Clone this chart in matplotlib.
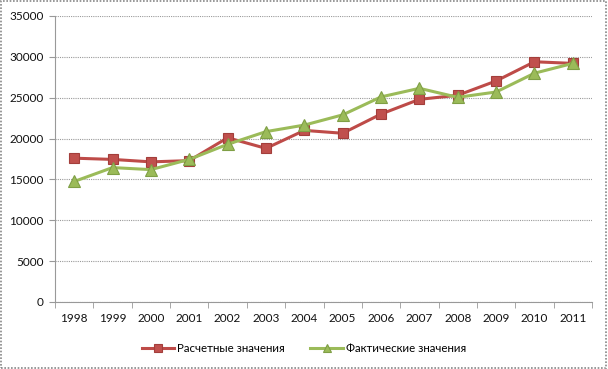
import matplotlib
matplotlib.use("Agg")
import matplotlib.pyplot as plt
from matplotlib.patches import Rectangle
import numpy as np

years = ['1998', '1999', '2000', '2001', '2002', '2003', '2004',
         '2005', '2006', '2007', '2008', '2009', '2010', '2011']
calc_vals = [17600, 17450, 17150, 17300, 20100, 18800, 21000,
             20650, 23000, 24800, 25300, 27050, 29400, 29200]
fact_vals = [14750, 16450, 16200, 17450, 19300, 20850, 21650,
             22900, 25100, 26150, 25050, 25700, 28000, 29200]
y_ticks = [0, 5000, 10000, 15000, 20000, 25000, 30000, 35000]

plt.rcParams['font.family'] = ['Lato', 'DejaVu Sans']

fig = plt.figure(figsize=(6.08, 3.69), dpi=100)
ax = fig.add_axes([55 / 608, 1 - 302 / 369, 537 / 608, 286 / 369])

x = np.arange(len(years))
ax.plot(x, calc_vals, color='#BE4B48', lw=2.2, marker='s', ms=7,
        markerfacecolor='#C0504D', markeredgecolor='#A33E3B', mew=0.8,
        label='Расчетные значения', zorder=3)
ax.plot(x, fact_vals, color='#9BBB59', lw=2.2, marker='^', ms=8,
        markerfacecolor='#9BBB59', markeredgecolor='#7F9F45', mew=0.8,
        label='Фактические значения', zorder=4)

ax.set_xlim(-0.5, len(years) - 0.5)
ax.set_ylim(0, 35000)
ax.set_yticks(y_ticks)
ax.set_yticklabels([str(v) for v in y_ticks], fontsize=8.5, color='#111111')
ax.set_xticks(x)
ax.set_xticklabels(years, fontsize=8.5, color='#111111')
ax.set_xticks(np.arange(-0.5, len(years)), minor=True)
ax.tick_params(axis='x', which='major', length=0, pad=8)
ax.tick_params(axis='x', which='minor', length=4, color='#999999')
ax.tick_params(axis='y', length=4, color='#999999', pad=4)

ax.grid(axis='y', color='#9a9a9a', lw=0.8, linestyle=(0, (1, 1)))
ax.set_axisbelow(True)
for side in ['top', 'right']:
    ax.spines[side].set_visible(False)
ax.spines['left'].set_color('#999999')
ax.spines['bottom'].set_color('#999999')

fig.legend(loc='center', bbox_to_anchor=(0.5, 1 - 349 / 369), ncol=2,
           frameon=False, fontsize=8.3, handlelength=2.8, columnspacing=2.2,
           handletextpad=0.3, markerscale=0.8)

fig.patches.append(Rectangle((0.002, 0.003), 0.995, 0.993, transform=fig.transFigure,
                             fill=False, edgecolor='#888888', lw=1.2,
                             linestyle=(0, (1, 1))))

fig.savefig('out.png', dpi=100)
